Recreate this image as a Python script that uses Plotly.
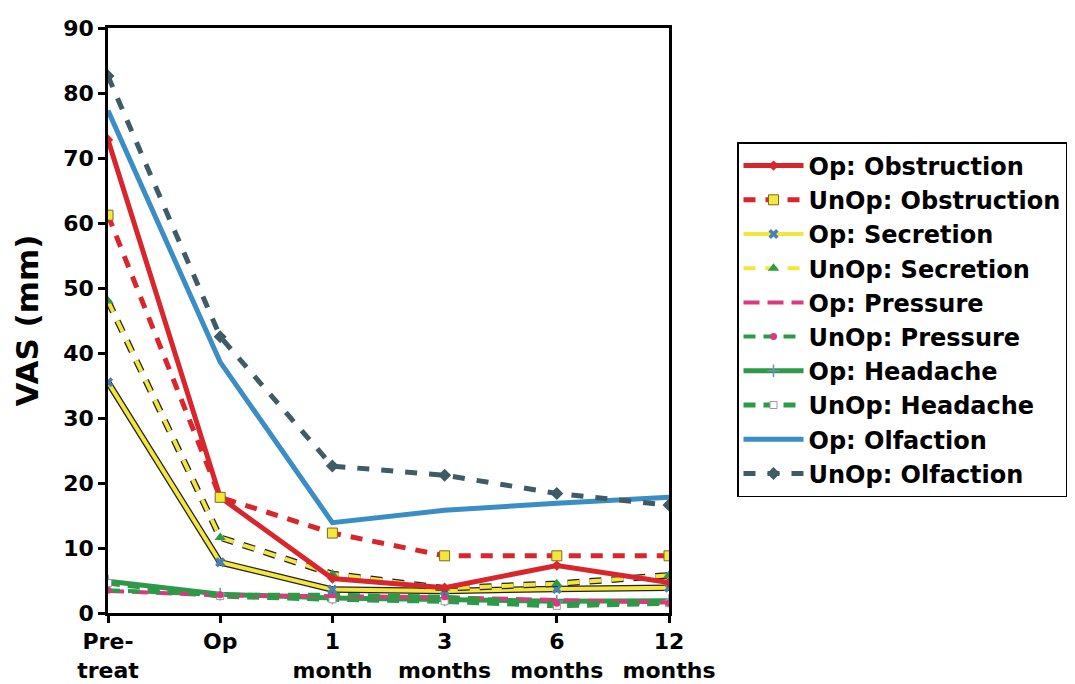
import plotly.graph_objects as go

categories = ["Pre-<br>treat", "Op", "1<br>month", "3<br>months", "6<br>months", "12<br>months"]

op_obstruction = [72.8, 17.8, 5.3, 3.9, 7.3, 4.7]
unop_obstruction = [61.2, 17.8, 12.3, 8.8, 8.8, 8.8]
op_secretion = [35.5, 7.8, 3.6, 3.4, 3.7, 3.9]
unop_secretion = [48.0, 11.6, 6.0, 3.8, 4.5, 5.8]
op_pressure = [3.4, 2.7, 2.6, 2.4, 2.0, 1.6]
unop_pressure = [3.5, 2.8, 2.8, 2.5, 1.5, 1.5]
op_headache = [4.9, 2.9, 2.3, 2.0, 1.8, 1.9]
unop_headache = [4.6, 2.6, 2.1, 1.8, 1.1, 1.5]
op_olfaction = [77.3, 38.6, 13.9, 15.8, 16.9, 17.8]
unop_olfaction = [82.6, 42.5, 22.6, 21.2, 18.4, 16.6]

RED = "#d8262c"
YEL = "#f4e63c"
BLUE = "#3b8dc6"
SLATE = "#3f5b66"
GREEN = "#2e9a48"
MAG = "#d93a7e"

x = list(range(len(categories)))
fig = go.Figure()

def add(name, y, color, width, dash, marker, outline=False):
    if outline:
        fig.add_trace(go.Scatter(x=x, y=y, mode="lines", showlegend=False, hoverinfo="skip",
                                 line=dict(color="#222222", width=width + 2.5, dash=dash)))
    fig.add_trace(go.Scatter(x=x, y=y, name=name, mode="lines+markers" if marker else "lines",
                             line=dict(color=color, width=width, dash=dash),
                             marker=marker or {}))

add("Op: Headache", op_headache, GREEN, 5, "solid",
    dict(symbol="cross-thin", size=9, line=dict(color="#6a8fc0", width=1.5)))
add("UnOp: Headache", unop_headache, GREEN, 5, "12px,8px",
    dict(symbol="square", size=7, color="white", line=dict(color="#9a9a9a", width=1)))
add("Op: Pressure", op_pressure, MAG, 4, "16px,8px", None)
add("UnOp: Pressure", unop_pressure, GREEN, 4, "12px,8px",
    dict(symbol="circle", size=7, color=MAG))
add("Op: Secretion", op_secretion, YEL, 4, "solid",
    dict(symbol="x", size=9, color="#4a7fb0"), outline=True)
add("UnOp: Secretion", unop_secretion, YEL, 4, "12px,10px",
    dict(symbol="triangle-up", size=10, color=GREEN), outline=True)
add("Op: Obstruction", op_obstruction, RED, 5, "solid",
    dict(symbol="diamond", size=8, color=RED))
add("UnOp: Obstruction", unop_obstruction, RED, 5, "12px,10px",
    dict(symbol="square", size=10, color=YEL, line=dict(color="#7a6a20", width=1)))
add("Op: Olfaction", op_olfaction, BLUE, 5, "solid", None)
add("UnOp: Olfaction", unop_olfaction, SLATE, 5, "12px,12px",
    dict(symbol="diamond", size=10, color=SLATE))

order = ["Op: Obstruction", "UnOp: Obstruction", "Op: Secretion", "UnOp: Secretion",
         "Op: Pressure", "UnOp: Pressure", "Op: Headache", "UnOp: Headache",
         "Op: Olfaction", "UnOp: Olfaction"]
for tr in fig.data:
    if tr.name in order:
        tr.legendrank = order.index(tr.name) + 1

FONT = "DejaVu Sans, Liberation Sans, Arial, sans-serif"

# page body has an 8px margin; figure is sized to fit the 1075x684 window
W, H = 1067, 676

fig.update_layout(
    width=W, height=H,
    margin=dict(l=100, r=406, t=20, b=71, autoexpand=False),
    paper_bgcolor="white", plot_bgcolor="white",
    font=dict(family=FONT, color="black", size=22, weight="bold"),
    showlegend=True,
    legend=dict(
        xref="container", yref="container", x=(737 - 8) / W, y=1 - (142 - 8) / H,
        xanchor="left", yanchor="top", maxheight=600,
        bordercolor="black", borderwidth=1.5, bgcolor="white",
        font=dict(size=24, family=FONT, weight="bold"),
        itemwidth=60, tracegroupgap=0,
    ),
    xaxis=dict(
        range=[0, 5], tickmode="array", tickvals=x, ticktext=categories,
        showline=True, linecolor="black", linewidth=2.5, mirror=True,
        ticks="outside", ticklen=7, tickwidth=2.5, tickcolor="black",
        showgrid=False, zeroline=False,
        tickfont=dict(size=22, family=FONT, weight="bold"),
    ),
    yaxis=dict(
        range=[0, 90], dtick=10,
        showline=True, linecolor="black", linewidth=2.5, mirror=True,
        ticks="outside", ticklen=7, tickwidth=2.5, tickcolor="black",
        showgrid=False, zeroline=False,
        tickfont=dict(size=22, family=FONT, weight="bold"),
        title=dict(text="VAS (mm)", font=dict(size=31, family=FONT, weight="bold"), standoff=16),
    ),
)

fig.write_html("out.html")
